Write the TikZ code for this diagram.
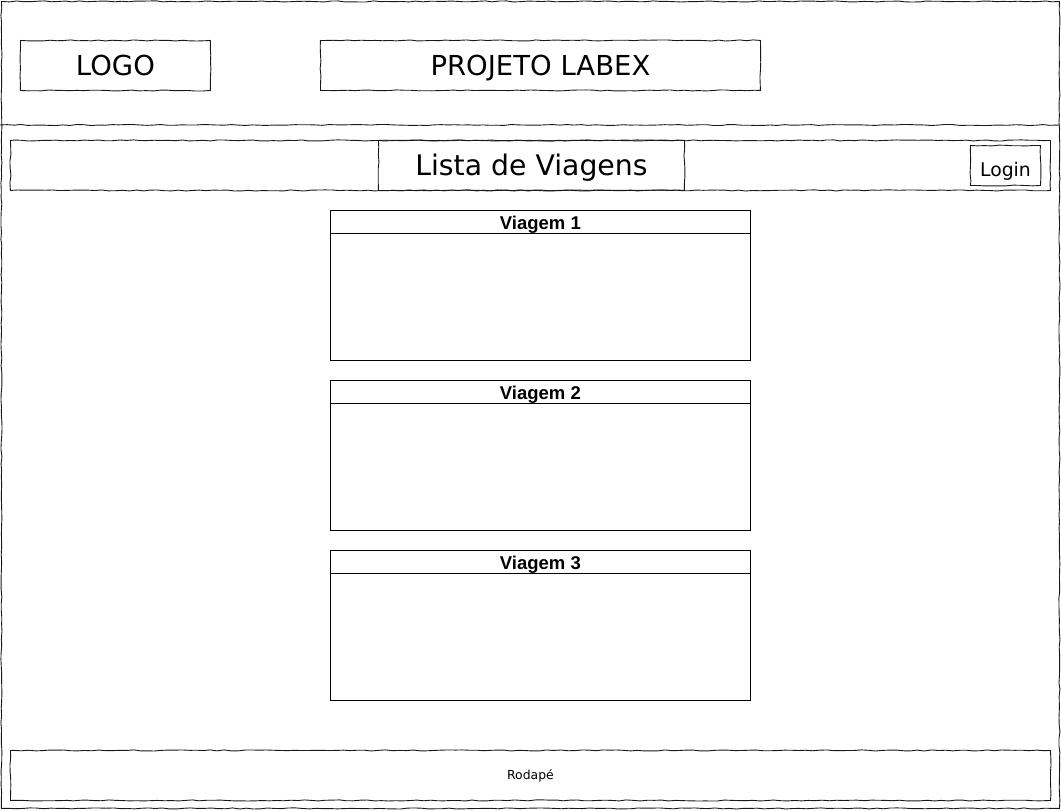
\documentclass[tikz,border=0pt]{standalone}
\usepackage{fontspec}
\setmainfont{DejaVu Sans}
\newfontfamily\cardfont{Liberation Sans}
\usetikzlibrary{decorations.pathmorphing}
\tikzset{
  sketch/.style={draw=black!90, line width=0.9pt, decorate,
    decoration={random steps, segment length=7pt, amplitude=0.55pt}},
  sbox/.style={sketch, rectangle, inner sep=0pt, anchor=north west},
  card/.style={draw=black, line width=0.8pt, rectangle, inner sep=0pt, anchor=north west},
  bigtxt/.style={font=\fontsize{27.5}{30}\selectfont, text height=20pt, text depth=0pt},
}
\begin{document}
\pgfmathsetseed{7}
\begin{tikzpicture}[x=1pt, y=-1pt]
\useasboundingbox (0,0) rectangle (1061,811);
% outer frame
\node[sbox, minimum width=1058pt, minimum height=807pt] (frame) at (1,1) {};
% header divider
\coordinate (hl) at (0,125);
\coordinate (hr) at (1060,125);
\draw[sketch] (hl) -- (hr);
% header boxes
\node[sbox, minimum width=190pt, minimum height=50pt, bigtxt] (logo) at (20,40) {LOGO};
\node[sbox, minimum width=440pt, minimum height=50pt, bigtxt] (title) at (320,40) {PROJETO LABEX};
% nav bar
\node[sbox, minimum width=1040pt, minimum height=50pt] (nav) at (10,140) {};
\node[sbox, minimum width=306pt, minimum height=50pt, font=\fontsize{28.3}{32}\selectfont, text height=20.6pt, text depth=0pt] (lista) at (378,140) {Lista de Viagens};
\node[sbox, minimum width=70pt, minimum height=40pt, font=\fontsize{18.8}{22}\selectfont, text height=21.7pt, text depth=0pt] (login) at (970,145) {Login};
% cards
\foreach \i/\y in {1/210, 2/380, 3/550} {
  \node[card, minimum width=420pt, minimum height=150pt] (card\i) at (330,\y) {};
  \node[card, minimum width=420pt, minimum height=23pt, font=\cardfont\bfseries\fontsize{18.5}{20}\selectfont, text height=15.5pt, text depth=0pt] (head\i) at (330,\y) {Viagem \i};
}
% footer
\node[sbox, minimum width=1040pt, minimum height=50pt, font=\fontsize{12.4}{15}\selectfont, text height=9pt, text depth=0pt] (footer) at (10,750) {Rodapé};
\end{tikzpicture}
\end{document}
